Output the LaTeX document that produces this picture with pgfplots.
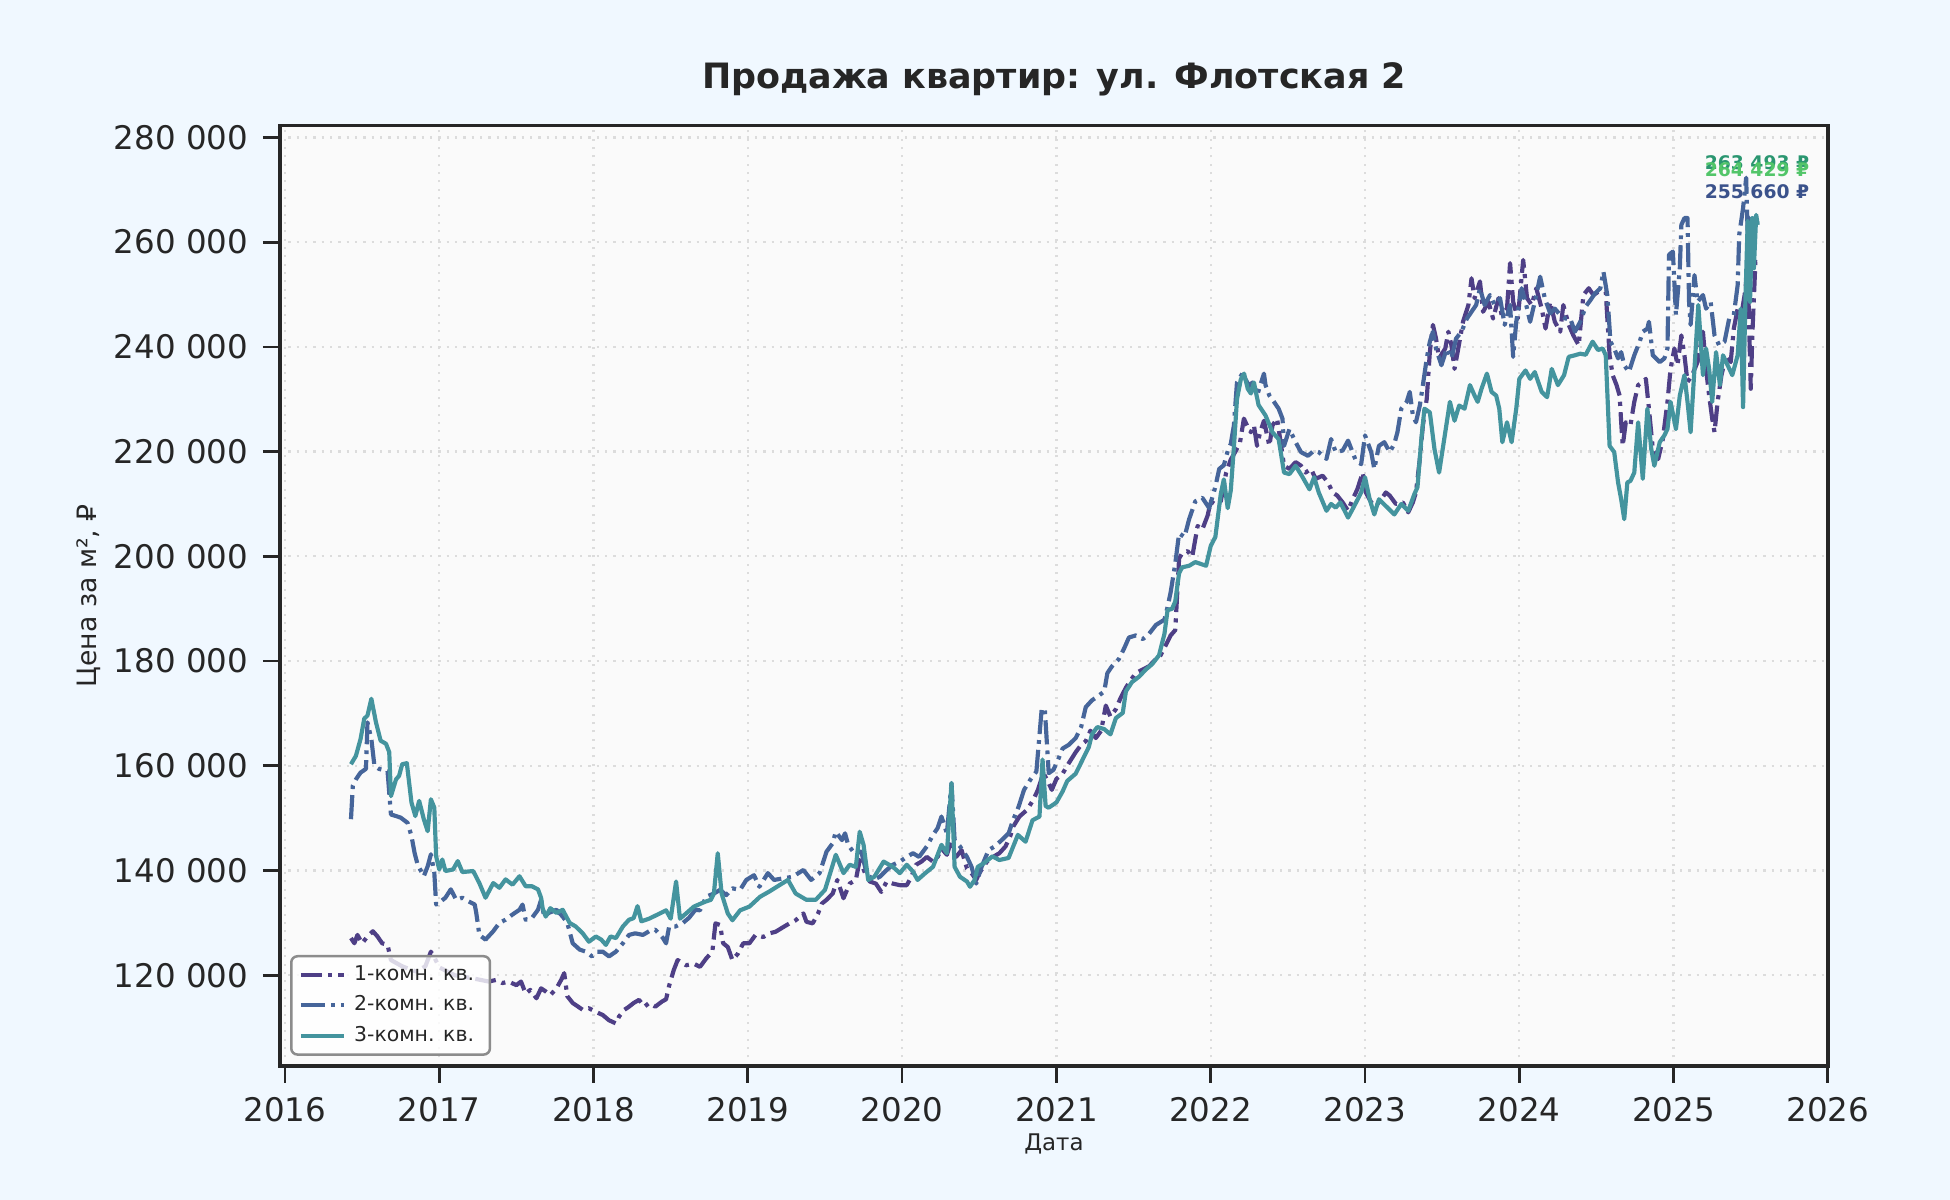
\documentclass[border=0pt]{standalone}
\usepackage{fontspec}
\setmainfont{DejaVu Sans}
\usepackage{pgfplots}
\pgfplotsset{compat=1.18}
\usepackage{pgfplotstable}
\definecolor{figbg}{HTML}{F0F8FF}
\definecolor{axbg}{HTML}{FAFAFA}
\definecolor{frame}{HTML}{262626}
\definecolor{gridc}{HTML}{DCDCDC}
\definecolor{cA}{HTML}{4E3F86}
\definecolor{cB}{HTML}{46659A}
\definecolor{cC}{HTML}{44949E}
\definecolor{lA}{HTML}{2A9670}
\definecolor{lB}{HTML}{52C569}
\definecolor{lC}{HTML}{3B528B}

\pgfplotstableread{
x y
2016.428 127100
2016.45 126100
2016.47 127700
2016.50 126100
2016.535 127400
2016.57 128400
2016.60 127400
2016.63 126100
2016.665 125800
2016.687 122900
2016.76 121700
2016.85 120700
2016.91 121700
2016.946 124500
2016.97 123300
2017.0 121500
2017.1 120000
2017.2 119500
2017.32 118800
2017.37 119100
2017.41 118500
2017.45 118800
2017.50 118100
2017.53 118800
2017.56 116500
2017.59 117200
2017.63 115600
2017.66 117500
2017.69 116900
2017.72 116200
2017.76 117500
2017.79 119100
2017.81 120400
2017.83 116000
2017.865 114700
2017.90 114000
2017.93 113400
2017.97 113700
2018.015 113000
2018.06 112400
2018.10 111400
2018.145 110800
2018.165 112100
2018.20 113400
2018.23 114000
2018.26 114700
2018.295 115300
2018.33 114000
2018.36 114700
2018.40 114000
2018.445 115000
2018.47 115400
2018.49 118000
2018.52 121000
2018.545 122900
2018.60 121900
2018.65 122200
2018.69 121600
2018.73 123200
2018.77 124500
2018.79 129900
2018.82 129600
2018.84 126100
2018.87 125400
2018.90 122900
2018.935 124100
2018.97 126100
2019.01 126100
2019.05 127700
2019.10 127300
2019.14 128000
2019.18 128300
2019.23 129200
2019.27 129900
2019.31 130500
2019.36 131800
2019.38 130200
2019.42 129900
2019.455 131800
2019.48 133700
2019.51 134400
2019.55 135600
2019.58 138200
2019.62 134700
2019.66 137500
2019.70 138200
2019.725 142000
2019.76 139500
2019.79 137900
2019.83 137500
2019.865 135900
2019.90 137900
2019.94 137500
2019.985 137200
2020.03 137200
2020.06 138800
2020.09 141100
2020.125 141700
2020.16 142600
2020.20 141700
2020.23 142600
2020.255 144200
2020.29 143000
2020.32 145800
2020.35 142600
2020.385 143900
2020.42 140400
2020.45 139500
2020.48 138200
2020.50 139500
2020.55 141700
2020.59 142600
2020.63 143300
2020.67 144600
2020.70 146500
2020.72 148400
2020.76 150300
2020.81 151600
2020.85 153500
2020.88 155400
2020.915 158600
2020.94 157300
2020.97 155400
2021.0 157500
2021.04 158500
2021.08 160500
2021.125 162600
2021.16 164000
2021.19 164700
2021.22 166700
2021.255 165300
2021.29 166700
2021.32 171500
2021.35 169400
2021.385 170800
2021.415 172900
2021.45 174900
2021.48 176300
2021.515 177700
2021.56 178400
2021.60 179000
2021.645 180400
2021.675 181100
2021.71 183100
2021.74 184900
2021.77 185900
2021.795 199600
2021.815 200600
2021.85 201000
2021.88 199900
2021.915 205800
2021.945 205100
2021.98 207800
2022.0 210500
2022.03 209900
2022.065 210500
2022.10 216000
2022.13 218500
2022.16 220000
2022.19 221800
2022.215 226300
2022.235 225000
2022.26 223700
2022.28 225000
2022.30 221100
2022.32 223700
2022.345 225900
2022.38 221100
2022.40 225000
2022.43 226300
2022.45 222400
2022.475 217300
2022.51 216700
2022.55 218000
2022.585 217300
2022.615 216000
2022.65 216700
2022.68 214800
2022.725 215400
2022.76 214100
2022.79 212200
2022.82 211600
2022.855 210300
2022.89 208700
2022.92 210900
2022.95 212800
2022.985 216000
2023.005 212200
2023.04 210300
2023.07 209600
2023.105 210900
2023.135 212200
2023.16 211600
2023.20 210000
2023.245 210300
2023.28 208400
2023.31 210300
2023.33 212200
2023.355 218600
2023.375 225000
2023.40 230100
2023.42 239000
2023.44 244200
2023.46 241600
2023.48 237800
2023.52 239700
2023.54 242900
2023.56 240300
2023.58 235800
2023.60 239000
2023.635 244800
2023.67 248000
2023.69 253100
2023.71 249300
2023.745 252500
2023.765 246700
2023.80 248600
2023.83 245400
2023.865 249300
2023.885 246100
2023.92 247300
2023.94 256000
2023.96 248600
2023.99 245400
2024.025 256600
2024.05 249300
2024.08 248000
2024.11 251200
2024.145 247300
2024.17 243500
2024.20 248600
2024.23 244800
2024.265 242900
2024.285 248000
2024.32 244200
2024.35 242200
2024.385 240300
2024.415 249900
2024.45 251200
2024.48 249900
2024.51 250500
2024.545 250500
2024.56 250500
2024.585 238400
2024.605 234600
2024.63 232700
2024.65 230700
2024.66 225600
2024.67 221100
2024.69 225600
2024.72 225000
2024.745 229500
2024.77 232700
2024.80 233300
2024.82 233900
2024.84 228200
2024.865 220500
2024.90 218600
2024.93 222400
2024.96 229500
2024.98 235800
2025.005 239700
2025.025 236500
2025.05 242200
2025.07 238400
2025.09 233300
2025.12 234600
2025.155 237100
2025.19 242900
2025.21 235800
2025.23 230700
2025.25 226300
2025.265 223700
2025.285 229500
2025.31 234600
2025.34 238400
2025.37 237100
2025.39 243500
2025.415 247300
2025.435 245400
2025.46 249900
2025.48 255000
2025.50 232000
2025.51 242200
2025.53 256300
2025.55 255700
}\seriesA

\pgfplotstableread{
x y
2016.428 149800
2016.44 156200
2016.46 157400
2016.49 158700
2016.525 159400
2016.535 168300
2016.56 165100
2016.58 160000
2016.61 159400
2016.665 159000
2016.687 150700
2016.72 150400
2016.75 150100
2016.795 149100
2016.82 146600
2016.84 143400
2016.86 141100
2016.90 138900
2016.925 140800
2016.946 143100
2016.968 139600
2016.98 133500
2017.01 134100
2017.04 134800
2017.075 136400
2017.11 134400
2017.15 134800
2017.19 134100
2017.23 133500
2017.24 131900
2017.26 127700
2017.30 126800
2017.35 128400
2017.39 130000
2017.43 130600
2017.475 131600
2017.52 132500
2017.54 133500
2017.56 130600
2017.60 130900
2017.64 132500
2017.66 134400
2017.68 131200
2017.71 131900
2017.76 132500
2017.80 131200
2017.83 130000
2017.865 126100
2017.91 124900
2017.95 124500
2017.99 123600
2018.025 124500
2018.06 124500
2018.10 123600
2018.145 124500
2018.19 126100
2018.23 127700
2018.27 128000
2018.32 127700
2018.36 128400
2018.40 128700
2018.45 127100
2018.47 126100
2018.49 129300
2018.53 129300
2018.58 130000
2018.62 131000
2018.66 132500
2018.69 132400
2018.73 135000
2018.78 135600
2018.82 136300
2018.86 135300
2018.90 136600
2018.95 136300
2018.99 138200
2019.04 139100
2019.075 136900
2019.13 139500
2019.17 138200
2019.23 138500
2019.29 138800
2019.36 140100
2019.41 138200
2019.465 139500
2019.51 143600
2019.55 145200
2019.57 147400
2019.61 145800
2019.63 147100
2019.65 144900
2019.69 143300
2019.735 143600
2019.77 139500
2019.81 138200
2019.855 138800
2019.90 140100
2019.94 141100
2019.985 141700
2020.03 142600
2020.07 143300
2020.11 142600
2020.16 144600
2020.20 146800
2020.23 148100
2020.255 150300
2020.29 147100
2020.32 156700
2020.34 145800
2020.375 144600
2020.42 142600
2020.45 140700
2020.48 137500
2020.515 140700
2020.56 143900
2020.60 144600
2020.645 145800
2020.69 147100
2020.72 149700
2020.755 152200
2020.79 155400
2020.83 157300
2020.87 158900
2020.905 171000
2020.925 170700
2020.95 158600
2020.98 159200
2021.01 161100
2021.04 163300
2021.08 164000
2021.125 165300
2021.16 167400
2021.19 171200
2021.23 172500
2021.265 173200
2021.31 174200
2021.33 177700
2021.36 179000
2021.405 180400
2021.44 182500
2021.47 184500
2021.515 184900
2021.56 184200
2021.60 185200
2021.645 186900
2021.70 187900
2021.72 190300
2021.74 193100
2021.77 198600
2021.795 204400
2021.83 203700
2021.86 207100
2021.90 210500
2021.945 211200
2021.99 209200
2022.03 213300
2022.055 216700
2022.085 217400
2022.11 220100
2022.13 221500
2022.15 225000
2022.17 233200
2022.205 234900
2022.25 232500
2022.27 233200
2022.30 230700
2022.345 234900
2022.355 232700
2022.38 230700
2022.41 229500
2022.44 228200
2022.465 226300
2022.475 221100
2022.51 224300
2022.55 221800
2022.585 219900
2022.63 219200
2022.67 220200
2022.70 219900
2022.75 218600
2022.78 222400
2022.81 219900
2022.855 220200
2022.89 222100
2022.94 218300
2022.975 217600
2023.00 223100
2023.04 219900
2023.06 216700
2023.09 221100
2023.125 221800
2023.16 219900
2023.19 221500
2023.21 223700
2023.235 228200
2023.27 229500
2023.29 231400
2023.31 226900
2023.33 225600
2023.355 228800
2023.375 232700
2023.40 237800
2023.42 241000
2023.44 242900
2023.46 239700
2023.495 236500
2023.53 239700
2023.56 237800
2023.59 241600
2023.625 242900
2023.66 245400
2023.69 246700
2023.72 248000
2023.745 251200
2023.775 248000
2023.81 249900
2023.84 248000
2023.875 249300
2023.905 244200
2023.94 248000
2023.96 238100
2023.98 244800
2024.015 251200
2024.04 248600
2024.07 244800
2024.10 248600
2024.135 253400
2024.165 249300
2024.20 246400
2024.23 247300
2024.265 246100
2024.30 245400
2024.33 245400
2024.36 242900
2024.395 244800
2024.43 247700
2024.46 248900
2024.49 250200
2024.525 251200
2024.545 254400
2024.57 249900
2024.585 243500
2024.59 241000
2024.615 239700
2024.64 237800
2024.66 239000
2024.68 236500
2024.71 235200
2024.745 238400
2024.78 241000
2024.80 242900
2024.83 243500
2024.84 244800
2024.865 238400
2024.91 237100
2024.94 237800
2024.96 239700
2024.97 257600
2024.995 258200
2025.015 246100
2025.04 255000
2025.05 263300
2025.07 264600
2025.09 264600
2025.10 248600
2025.11 244200
2025.135 253700
2025.155 248600
2025.19 249900
2025.21 247300
2025.24 248600
2025.265 242200
2025.295 240300
2025.33 241000
2025.36 245400
2025.39 246100
2025.415 251800
2025.425 261400
2025.45 266500
2025.47 272300
2025.48 261400
2025.49 264600
2025.51 255000
2025.53 265200
2025.545 263300
}\seriesB

\pgfplotstableread{
x y
2016.428 160300
2016.46 161900
2016.49 165100
2016.514 169000
2016.535 169600
2016.56 172800
2016.59 168300
2016.62 164800
2016.655 164200
2016.676 162600
2016.687 154200
2016.72 157400
2016.74 158100
2016.76 160300
2016.79 160500
2016.82 153000
2016.845 150400
2016.87 153300
2016.90 149800
2016.925 147500
2016.946 153600
2016.968 152000
2016.98 142700
2017.00 140200
2017.02 142100
2017.04 139900
2017.09 140200
2017.12 141800
2017.15 139700
2017.22 139900
2017.26 137600
2017.30 134800
2017.35 137600
2017.39 136700
2017.43 138300
2017.475 137300
2017.52 138900
2017.56 137000
2017.60 137000
2017.64 136400
2017.66 134800
2017.67 132800
2017.69 131200
2017.72 132800
2017.76 131900
2017.80 132500
2017.845 130000
2017.885 129300
2017.93 128000
2017.97 126400
2018.015 127400
2018.05 126800
2018.08 125800
2018.11 127400
2018.145 127100
2018.19 129300
2018.23 130600
2018.26 130900
2018.285 133200
2018.31 130300
2018.36 130800
2018.43 131800
2018.47 132400
2018.50 130800
2018.535 137900
2018.56 130800
2018.60 131800
2018.65 133100
2018.72 134000
2018.76 134400
2018.78 135600
2018.805 143300
2018.83 135600
2018.87 131800
2018.90 130500
2018.95 132400
2019.01 133100
2019.08 135000
2019.14 136000
2019.205 137200
2019.26 138200
2019.31 135600
2019.38 134400
2019.44 134400
2019.50 136300
2019.54 140100
2019.57 143000
2019.62 139500
2019.66 141100
2019.70 140700
2019.725 147400
2019.75 144900
2019.78 138200
2019.82 138800
2019.88 141700
2019.94 140700
2019.985 139500
2020.03 141100
2020.07 139800
2020.10 138200
2020.15 139500
2020.20 140700
2020.255 144900
2020.29 143300
2020.32 156700
2020.34 140700
2020.375 138800
2020.42 137900
2020.44 136900
2020.47 138200
2020.49 140700
2020.53 141400
2020.585 142700
2020.63 142000
2020.69 142400
2020.75 146800
2020.80 145500
2020.845 149600
2020.89 150300
2020.91 161200
2020.93 152300
2020.95 152000
2021.00 153000
2021.04 155100
2021.07 157100
2021.125 158500
2021.17 161200
2021.21 163600
2021.23 166000
2021.265 167400
2021.31 167000
2021.35 166000
2021.385 169100
2021.43 170100
2021.45 174200
2021.49 176000
2021.535 177000
2021.58 178400
2021.62 179400
2021.665 181100
2021.70 185200
2021.72 189700
2021.75 190000
2021.77 191400
2021.795 196800
2021.815 197900
2021.86 198200
2021.90 198900
2021.97 198200
2022.00 202000
2022.03 203700
2022.065 211900
2022.085 214700
2022.11 209200
2022.13 212600
2022.15 220800
2022.17 230000
2022.195 233800
2022.216 234900
2022.24 232000
2022.26 231100
2022.28 233200
2022.31 228900
2022.355 226900
2022.40 223700
2022.44 222400
2022.475 216000
2022.51 215700
2022.55 217300
2022.59 215400
2022.64 212800
2022.67 215100
2022.70 212200
2022.75 208700
2022.78 210000
2022.81 209300
2022.84 210300
2022.89 207400
2022.93 209600
2022.975 212200
2023.00 215100
2023.03 210900
2023.06 208000
2023.09 210900
2023.135 209600
2023.19 208000
2023.235 210000
2023.28 208700
2023.32 211900
2023.34 213200
2023.365 222400
2023.385 228200
2023.42 227500
2023.45 220500
2023.48 216000
2023.52 223700
2023.55 229500
2023.58 225900
2023.61 228800
2023.645 228200
2023.68 232700
2023.71 230700
2023.73 229500
2023.755 232000
2023.79 234900
2023.82 231400
2023.85 230700
2023.87 228200
2023.89 221800
2023.92 225600
2023.95 221800
2023.98 228200
2024.00 233900
2024.04 235500
2024.07 233900
2024.10 235200
2024.145 231400
2024.18 230400
2024.21 235800
2024.25 232700
2024.29 234600
2024.32 238100
2024.36 238400
2024.395 238700
2024.43 238500
2024.475 241000
2024.51 239400
2024.54 239700
2024.56 238400
2024.585 221100
2024.615 219900
2024.64 214100
2024.66 210900
2024.68 207100
2024.70 214100
2024.72 214400
2024.745 216000
2024.77 225600
2024.80 214800
2024.83 228200
2024.855 220500
2024.875 217300
2024.91 221800
2024.94 223100
2024.96 224300
2024.98 229500
2025.015 224300
2025.04 230700
2025.07 234600
2025.09 229500
2025.11 223700
2025.135 235800
2025.16 248000
2025.19 234600
2025.21 239700
2025.23 235800
2025.25 229500
2025.275 239000
2025.30 232700
2025.32 238400
2025.35 236500
2025.38 234600
2025.415 238400
2025.435 247300
2025.45 228500
2025.465 248600
2025.48 264000
2025.495 248600
2025.51 264600
2025.52 255000
2025.535 265200
2025.545 263300
}\seriesC

\begin{document}
\begin{tikzpicture}
\fill[figbg] (0,0) rectangle (468pt,288pt);
\begin{axis}[
  at={(67.2pt,32.2pt)}, anchor=south west,
  scale only axis, width=371.5pt, height=225.7pt,
  xmin=2015.968, xmax=2026.0,
  ymin=102700, ymax=282300,
  xtick={2016,2017,...,2026},
  ytick={120000,140000,...,280000},
  xtick pos=bottom, ytick pos=left,
  tick align=outside,
  major tick length=4.1pt,
  every tick/.style={line width=0.65pt, color=frame},
  axis line style={line width=0.85pt, color=frame},
  axis background/.style={fill=axbg},
  grid=major,
  major grid style={color=gridc, line width=0.55pt, dash pattern=on 0.55pt off 1.45pt},
  /pgf/number format/assume math mode=true,
  xticklabel style={/pgf/number format/1000 sep={}},
  yticklabel style={/pgf/number format/fixed, /pgf/number format/precision=0, /pgf/number format/1000 sep={\ }},
  scaled y ticks=false,
  ticklabel style={font=\fontsize{7.8}{9}\selectfont, color=frame},
  title={Продажа квартир: ул. Флотская 2},
  title style={font=\fontsize{8.38}{10}\selectfont\bfseries, color=frame, at={(axis description cs:0.5,1)}, anchor=base, yshift=2.8pt},
  xlabel={Дата},
  xlabel style={font=\fontsize{5.5}{6.6}\selectfont, color=frame, at={(axis description cs:0.5,0)}, anchor=center, yshift=-18.8pt},
  ylabel={Цена за м², ₽},
  ylabel style={font=\fontsize{6.4}{7.6}\selectfont, color=frame, at={(axis description cs:-0.1233,0.5)}, anchor=center},
  legend cell align=left,
  legend image code/.code={\draw[#1] (0pt,0pt) -- (10.3pt,0pt);},
  legend style={at={(axis description cs:0,0)}, anchor=south west, xshift=2.4pt, yshift=2.4pt,
    draw=black!45, line width=0.6pt, fill=white, fill opacity=0.8, draw opacity=1, text opacity=1,
    rounded corners=1.5pt, font=\fontsize{4.9}{5.9}\selectfont, text=frame,
    inner xsep=1.8pt, inner ysep=1.5pt, row sep=1.3pt,
    nodes={inner ysep=0.6pt, text height=3.7pt, text depth=1.1pt}},
]
\addplot[cA, line width=1pt, line join=round, dash pattern=on 5pt off 1.5pt on 1pt off 1.5pt] table[x=x,y=y] {\seriesA};
\addlegendentry{1-комн. кв.}
\addplot[cB, line width=1pt, line join=round, dash pattern=on 5.8pt off 1.45pt on 0.9pt off 1.45pt] table[x=x,y=y] {\seriesB};
\addlegendentry{2-комн. кв.}
\addplot[cC, line width=1pt, line join=round] table[x=x,y=y] {\seriesC};
\addlegendentry{3-комн. кв.}
\node[anchor=east, font=\fontsize{4.5}{5}\selectfont\bfseries, text=lA, inner sep=0pt] at (rel axis cs:0.9884,0.960) {263 493 ₽};
\node[anchor=east, font=\fontsize{4.5}{5}\selectfont\bfseries, text=lB, inner sep=0pt] at (rel axis cs:0.9884,0.9528) {264 429 ₽};
\node[anchor=east, font=\fontsize{4.5}{5}\selectfont\bfseries, text=lC, inner sep=0pt] at (rel axis cs:0.9884,0.9295) {255 660 ₽};
\end{axis}
\pgfresetboundingbox
\useasboundingbox (0,0) rectangle (468pt,288pt);
\end{tikzpicture}
\end{document}
